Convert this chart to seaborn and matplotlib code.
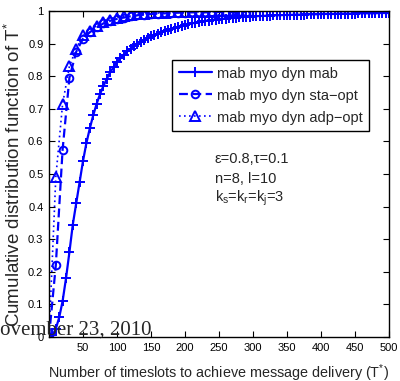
import numpy as np
import pandas as pd
import seaborn as sns
import matplotlib as mpl
import matplotlib.pyplot as plt

# x grids (timeslots)
t_mab = np.arange(5, 505, 5)
t_opt = np.arange(0, 300, 10)

cdf_mab = [
    0.005, 0.025, 0.06, 0.11, 0.18, 0.26, 0.345, 0.41, 0.475, 0.54,
    0.595, 0.64, 0.68, 0.715, 0.745, 0.77, 0.792, 0.812, 0.828, 0.843,
    0.855, 0.866, 0.876, 0.885, 0.893, 0.9, 0.906, 0.912, 0.917, 0.922,
    0.927, 0.931, 0.935, 0.939, 0.943, 0.946, 0.949, 0.952, 0.955, 0.958,
    0.96, 0.962, 0.964, 0.966, 0.968, 0.97, 0.971, 0.973, 0.974, 0.975,
    0.976, 0.977, 0.978, 0.979, 0.98, 0.981, 0.982, 0.982, 0.983, 0.984,
    0.984, 0.985, 0.985, 0.986, 0.986, 0.987, 0.987, 0.987, 0.988, 0.988,
    0.988, 0.989, 0.989, 0.989, 0.989, 0.99, 0.99, 0.99, 0.99, 0.991,
    0.991, 0.991, 0.991, 0.991, 0.992, 0.992, 0.992, 0.992, 0.992, 0.992,
    0.993, 0.993, 0.993, 0.993, 0.993, 0.993, 0.994, 0.994, 0.994, 0.994,
]
cdf_sta = [
    0.0, 0.22, 0.575, 0.795, 0.875, 0.915, 0.935, 0.95, 0.962, 0.97,
    0.976, 0.98, 0.984, 0.987, 0.989, 0.991, 0.992, 0.993, 0.994, 0.995,
    0.995, 0.996, 0.996, 0.996, 0.997, 0.997, 0.997, 0.997, 0.998, 0.998,
]
cdf_adp = [
    0.0, 0.49, 0.715, 0.83, 0.885, 0.925, 0.94, 0.955, 0.966, 0.974,
    0.98, 0.984, 0.987, 0.99, 0.992, 0.993, 0.994, 0.995, 0.996, 0.996,
    0.997, 0.997, 0.998, 0.998, 0.998, 0.999, 0.999, 0.999, 0.999, 0.999,
]
labels = ['mab myo dyn mab', 'mab myo dyn sta\u2212opt', 'mab myo dyn adp\u2212opt']

sns.set_style('ticks', {'xtick.direction': 'in', 'ytick.direction': 'in'})
plt.rcParams['font.family'] = ['Liberation Sans', 'DejaVu Sans']
plt.rcParams['mathtext.default'] = 'regular'
mpl.rc('xtick', top=True, labelsize=8)
mpl.rc('ytick', right=True, labelsize=8)
mpl.rc('axes', linewidth=1.0, edgecolor='black')

fig = plt.figure(figsize=(4.0, 3.81), dpi=100)
ax = fig.add_axes([0.1225, 0.1155, 0.85, 0.8555])

blue = (0, 0, 1)
df_mab = pd.DataFrame({'t': t_mab, 'cdf': cdf_mab})
df_sta = pd.DataFrame({'t': t_opt, 'cdf': cdf_sta})
df_adp = pd.DataFrame({'t': t_opt, 'cdf': cdf_adp})

sns.lineplot(data=df_mab, x='t', y='cdf', ax=ax, color=blue, lw=1.6, marker='+',
             markersize=6.5, mew=1.4, mec=blue, label=labels[0])
sns.lineplot(data=df_sta, x='t', y='cdf', ax=ax, color=blue, lw=1.6, linestyle=(0, (4, 2)),
             marker='o', markersize=5.5, mew=1.4, mfc='none', mec=blue, label=labels[1])
sns.lineplot(data=df_adp, x='t', y='cdf', ax=ax, color=blue, lw=1.2, linestyle=(0, (1, 2)),
             marker='^', markersize=6.5, mew=1.4, mfc='none', mec=blue, label=labels[2])

ax.set_xlim(0, 500)
ax.set_ylim(0, 1)
ax.set_xticks(np.arange(50, 501, 50))
ax.set_yticks(np.arange(0, 1.01, 0.1))
ax.set_yticklabels(['0', '0.1', '0.2', '0.3', '0.4', '0.5', '0.6', '0.7', '0.8', '0.9', '1'])
ax.tick_params(length=4, width=0.8, pad=4, colors='black')
for s in ax.spines.values():
    s.set_visible(True)

ax.set_xlabel(r'Number of timeslots to achieve message delivery (T$^{*}$)',
              fontsize=10.4, labelpad=7)
ax.set_ylabel(r'Cumulative distribution function of T$^{*}$', fontsize=13.5, labelpad=3)

leg = ax.legend(loc='upper left', bbox_to_anchor=(0.362, 0.85), borderaxespad=0,
                fontsize=10.5, frameon=True, fancybox=False, framealpha=1,
                edgecolor='black', handlelength=2.3, handletextpad=0.3,
                labelspacing=0.55, borderpad=0.45)
leg.get_frame().set_linewidth(1.0)

ax.text(244, 0.534, '\u03b5=0.8,\u03c4=0.1', fontsize=10.5)
ax.text(244, 0.472, 'n=8, l=10', fontsize=10.5)
ax.text(244, 0.415, r'k$_s$=k$_r$=k$_j$=3', fontsize=10.5)

fig.text(-15 / 400, 0.1207, 'November 23, 2010', family=['Liberation Serif', 'DejaVu Serif'],
         fontsize=15, va='baseline', ha='left')

fig.savefig('out.png', dpi=100)
